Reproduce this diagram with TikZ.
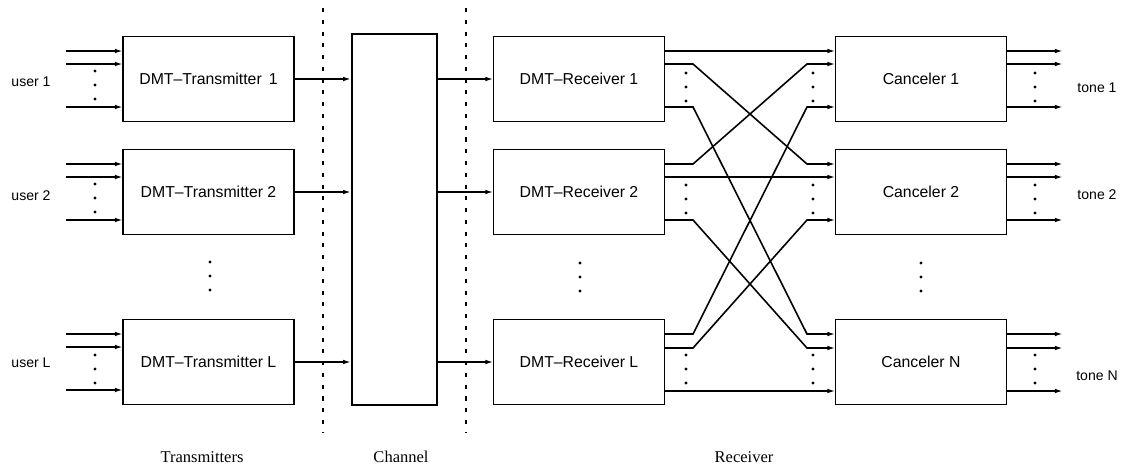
\documentclass[tikz,border=0pt]{standalone}
\usepackage{fontspec}
\setmainfont{Liberation Sans}
\newfontfamily\capfont{Liberation Serif}
\usepackage{tikz}
\usetikzlibrary{arrows.meta}
% three dots stacked, centred on (#1,#2)
\newcommand{\dotcol}[2]{\fill (#1,#2-14) circle (0.95pt) (#1,#2) circle (0.95pt) (#1,#2+14) circle (0.95pt);}

\begin{document}
\begin{tikzpicture}[x=0.02cm,y=-0.02cm,>={Latex[length=4.6pt,width=2.6pt]},line width=0.9pt,
    box node/.style={rectangle,draw,inner sep=0pt,outer sep=0pt,minimum width=3.42cm,minimum height=1.7cm,font=\fontsize{9}{11}\selectfont},
    side node/.style={font=\fontsize{8}{10}\selectfont},
    cap node/.style={font=\capfont\fontsize{9.4}{11}\selectfont},
    sep line/.style={line width=0.6pt,dash pattern=on 2.3pt off 4.4pt}]
  \useasboundingbox (0,0) rectangle (1126,468);

  % transmitters
  \node[box node] (tx1) at (208.5,79) {DMT--Transmitter\ \,1};
  \node[box node] (tx2) at (208.5,192) {DMT--Transmitter 2};
  \node[box node] (tx3) at (208.5,362) {DMT--Transmitter L};
  % channel
  \node[rectangle,draw,inner sep=0pt,minimum width=1.7cm,minimum height=7.42cm] (ch) at (394.5,219.5) {};
  % receivers
  \node[box node] (rx1) at (579,79) {DMT--Receiver 1};
  \node[box node] (rx2) at (579,192) {DMT--Receiver 2};
  \node[box node] (rx3) at (579,362) {DMT--Receiver L};
  % cancelers
  \node[box node] (k1) at (921,79) {Canceler 1};
  \node[box node] (k2) at (921,192) {Canceler 2};
  \node[box node] (k3) at (921,362) {Canceler N};

  % side labels
  \node[side node] (user1) at (31,82) {user 1};
  \node[side node] (user2) at (31,196) {user 2};
  \node[side node] (user3) at (31,363) {user L};
  \node[side node] (tone1) at (1097,88) {tone 1};
  \node[side node] (tone2) at (1097,195) {tone 2};
  \node[side node] (tone3) at (1097,376) {tone N};
  \node[cap node] (captx) at (202,457) {Transmitters};
  \node[cap node] (capch) at (401,457) {Channel};
  \node[cap node] (caprx) at (744,457) {Receiver};

  % separators
  \coordinate (s1a) at (323,8);  \coordinate (s1b) at (323,432);
  \coordinate (s2a) at (466,8);  \coordinate (s2b) at (466,432);
  \draw[sep line] (s1a) -- (s1b);
  \draw[sep line] (s2a) -- (s2b);

  % user inputs
  \coordinate (u1a) at (66,51);  \coordinate (u1b) at (66,64);  \coordinate (u1c) at (66,107);
  \coordinate (u2a) at (66,164); \coordinate (u2b) at (66,177); \coordinate (u2c) at (66,220);
  \coordinate (u3a) at (66,334); \coordinate (u3b) at (66,347); \coordinate (u3c) at (66,390);
  \path[->] (u1a) edge (u1a -| tx1.west) (u1b) edge (u1b -| tx1.west) (u1c) edge (u1c -| tx1.west);
  \path[->] (u2a) edge (u2a -| tx2.west) (u2b) edge (u2b -| tx2.west) (u2c) edge (u2c -| tx2.west);
  \path[->] (u3a) edge (u3a -| tx3.west) (u3b) edge (u3b -| tx3.west) (u3c) edge (u3c -| tx3.west);

  % through the channel
  \path[->] (tx1) edge (tx1 -| ch.west) (rx1 -| ch.east) edge (rx1);
  \path[->] (tx2) edge (tx2 -| ch.west) (rx2 -| ch.east) edge (rx2);
  \path[->] (tx3) edge (tx3 -| ch.west) (rx3 -| ch.east) edge (rx3);

  % receiver side bends
  \coordinate (r1a) at (693,51);  \coordinate (r1b) at (693,64);  \coordinate (r1c) at (693,107);
  \coordinate (r2a) at (693,164); \coordinate (r2b) at (693,177); \coordinate (r2c) at (693,220);
  \coordinate (r3a) at (693,334); \coordinate (r3b) at (693,348); \coordinate (r3c) at (693,391);
  % canceler side bends
  \coordinate (c1a) at (807,51);  \coordinate (c1b) at (807,64);  \coordinate (c1c) at (807,107);
  \coordinate (c2a) at (807,164); \coordinate (c2b) at (807,177); \coordinate (c2c) at (807,220);
  \coordinate (c3a) at (807,334); \coordinate (c3b) at (807,348); \coordinate (c3c) at (807,391);

  \path[->] (rx1.east |- r1a) edge (k1.west |- c1a);
  \draw[->] (rx1.east |- r1b) -- (r1b) -- (c2a) -- (k2.west |- c2a);
  \draw[->] (rx1.east |- r1c) -- (r1c) -- (c3a) -- (k3.west |- c3a);
  \draw[->] (rx2.east |- r2a) -- (r2a) -- (c1b) -- (k1.west |- c1b);
  \path[->] (rx2.east |- r2b) edge (k2.west |- c2b);
  \draw[->] (rx2.east |- r2c) -- (r2c) -- (c3b) -- (k3.west |- c3b);
  \draw[->] (rx3.east |- r3a) -- (r3a) -- (c1c) -- (k1.west |- c1c);
  \draw[->] (rx3.east |- r3b) -- (r3b) -- (c2c) -- (k2.west |- c2c);
  \path[->] (rx3.east |- r3c) edge (k3.west |- c3c);

  % tone outputs
  \coordinate (t1a) at (1063,51);  \coordinate (t1b) at (1063,64);  \coordinate (t1c) at (1063,107);
  \coordinate (t2a) at (1063,164); \coordinate (t2b) at (1063,177); \coordinate (t2c) at (1063,220);
  \coordinate (t3a) at (1063,334); \coordinate (t3b) at (1063,348); \coordinate (t3c) at (1063,391);
  \path[->] (k1.east |- t1a) edge (t1a) (k1.east |- t1b) edge (t1b) (k1.east |- t1c) edge (t1c);
  \path[->] (k2.east |- t2a) edge (t2a) (k2.east |- t2b) edge (t2b) (k2.east |- t2c) edge (t2c);
  \path[->] (k3.east |- t3a) edge (t3a) (k3.east |- t3b) edge (t3b) (k3.east |- t3c) edge (t3c);

  % dots
  \dotcol{95}{85} \dotcol{95}{198} \dotcol{95}{369}
  \dotcol{686}{87} \dotcol{686}{199} \dotcol{686}{369}
  \dotcol{813}{87} \dotcol{813}{199} \dotcol{813}{369}
  \dotcol{1035}{87} \dotcol{1035}{199} \dotcol{1035}{369}
  \dotcol{210}{276} \dotcol{580}{277} \dotcol{921}{277}
\end{tikzpicture}
\end{document}
